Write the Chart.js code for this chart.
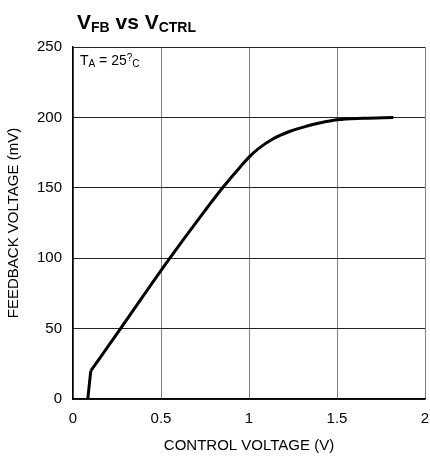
<!DOCTYPE html>
<html>
<head>
<meta charset="utf-8">
<script src="https://cdn.jsdelivr.net/npm/chart.js@4/dist/chart.umd.min.js"></script>
<style>
  html, body { margin: 0; padding: 0; background: #fff; }
  #wrap { width: 430px; height: 459px; }
</style>
</head>
<body>
<div id="wrap"><canvas id="myChart" width="430" height="459"></canvas></div>
<script>
// Steep start-up segment (straight)
const startVoltage = [0.084, 0.101];
const startFeedback = [0, 20];

// Rest of the curve
const controlVoltage = [0.101, 0.27, 0.55, 0.70, 0.85, 0.95, 1.0, 1.05, 1.135, 1.23, 1.325, 1.4, 1.5, 1.65, 1.82];
const feedbackVoltage = [20, 50, 100, 125.5, 150, 164.8, 171.8, 177.5, 184.7, 190, 193.7, 196, 198.3, 199.4, 200];

const xTicks = [0, 0.5, 1, 1.5, 2];
const yTicks = [0, 50, 100, 150, 200, 250];

const FONT = '"Liberation Sans", Arial, sans-serif';

// draw a run of text pieces: [text, size, bold, dy]
function drawRuns(ctx, x, y, runs) {
  runs.forEach(([text, size, bold, dy]) => {
    ctx.font = (bold ? 'bold ' : '') + size + 'px ' + FONT;
    ctx.fillText(text, x, y + dy);
    x += ctx.measureText(text).width;
  });
}

const labelsPlugin = {
  id: 'labels',
  afterDraw(chart) {
    const ctx = chart.ctx;
    const area = chart.chartArea;
    ctx.save();
    ctx.fillStyle = '#000';
    ctx.textBaseline = 'alphabetic';
    ctx.textAlign = 'left';
    // title
    drawRuns(ctx, 77, 28.5, [
      ['V', 21, true, 0], ['FB', 14, true, 3.4], [' vs ', 21, true, 0],
      ['V', 21, true, 0], ['CTRL', 14, true, 3.4]
    ]);
    // temperature note
    drawRuns(ctx, area.left + 7, area.top + 18, [
      ['T', 14, false, 0], ['A', 10, false, 2.3], [' = 25', 14, false, 0],
      ['?', 10, false, -4], ['C', 10, false, 2.3]
    ]);
    ctx.restore();
  }
};

const toPoints = (xs, ys) => xs.map((v, i) => ({ x: v, y: ys[i] }));

const ctx = document.getElementById('myChart').getContext('2d');
const myChart = new Chart(ctx, {
  type: 'line',
  data: {
    datasets: [{
      data: toPoints(startVoltage, startFeedback),
      borderColor: '#000',
      borderWidth: 3,
      pointRadius: 0,
      tension: 0,
      fill: false
    }, {
      data: toPoints(controlVoltage, feedbackVoltage),
      borderColor: '#000',
      borderWidth: 3,
      pointRadius: 0,
      cubicInterpolationMode: 'monotone',
      fill: false
    }]
  },
  options: {
    responsive: false,
    animation: false,
    layout: { padding: { top: 47, right: 5, left: 0, bottom: 0 } },
    plugins: {
      legend: { display: false },
      tooltip: { enabled: false }
    },
    scales: {
      x: {
        type: 'linear',
        min: 0,
        max: 2,
        afterFit: (s) => { s.height = 60; s.paddingLeft = 0; s.paddingRight = 0; },
        afterBuildTicks: (s) => { s.ticks = xTicks.map(v => ({ value: v })); },
        ticks: {
          color: '#000',
          padding: 11,
          font: { family: FONT, size: 15 },
          callback: (v) => String(v)
        },
        grid: { color: '#808080', lineWidth: 1, drawTicks: false },
        border: { color: '#000', width: 1.5 },
        title: {
          display: true,
          text: 'CONTROL VOLTAGE (V)',
          color: '#000',
          font: { family: FONT, size: 15 },
          padding: { top: 0, bottom: 4 }
        }
      },
      y: {
        min: 0,
        max: 250,
        afterFit: (s) => { s.width = 73; s.paddingTop = 0; s.paddingBottom = 0; },
        afterBuildTicks: (s) => { s.ticks = yTicks.map(v => ({ value: v })); },
        ticks: {
          color: '#000',
          padding: 11,
          font: { family: FONT, size: 15 }
        },
        grid: { color: '#222', lineWidth: 1, drawTicks: false },
        border: { color: '#000', width: 1.5 },
        title: {
          display: true,
          text: 'FEEDBACK VOLTAGE (mV)',
          color: '#000',
          font: { family: FONT, size: 15 },
          padding: { top: 5, bottom: 0 }
        }
      }
    }
  },
  plugins: [labelsPlugin]
});
</script>
</body>
</html>
